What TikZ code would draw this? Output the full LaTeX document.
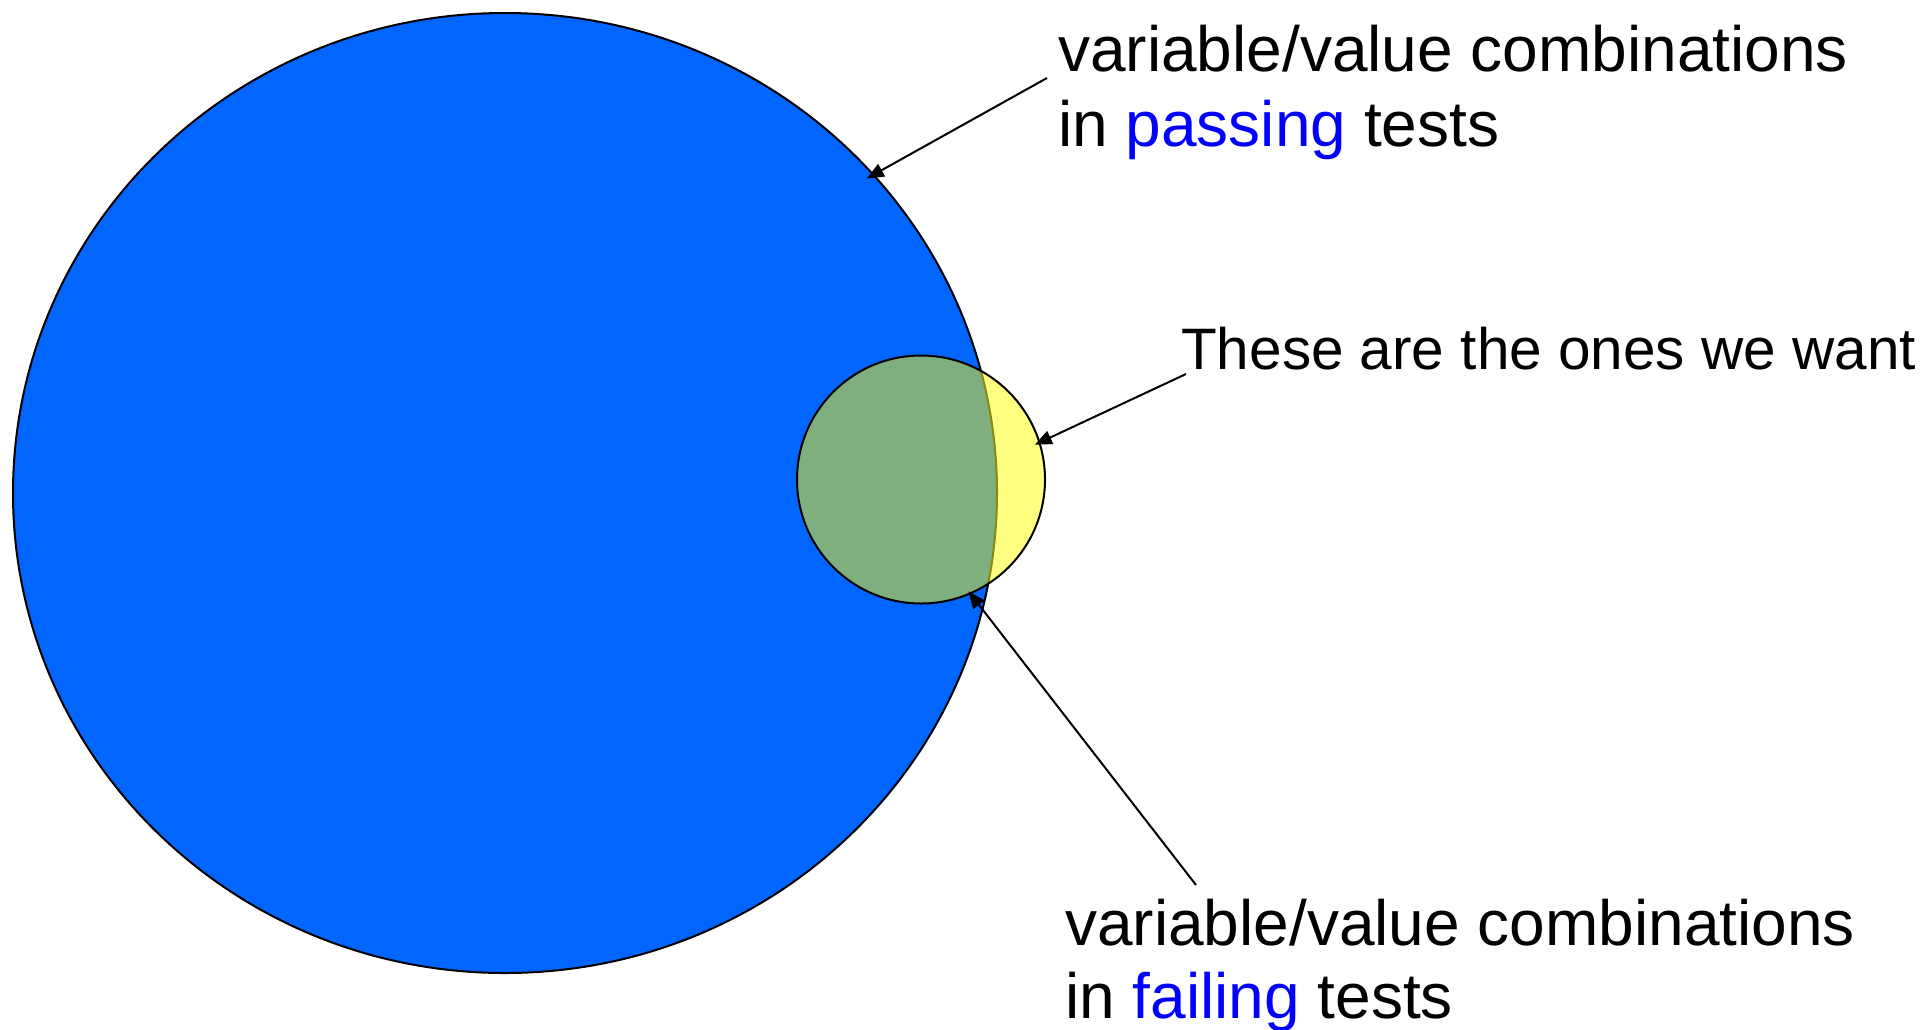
\documentclass[tikz,border=0pt]{standalone}
\usepackage{fontspec}
\setmainfont{Liberation Sans}
\usetikzlibrary{shapes.geometric,arrows.meta,calc}
\definecolor{bigblue}{HTML}{0066FF}
\definecolor{wordblue}{HTML}{0000FF}
\definecolor{overlapgreen}{HTML}{7FAF7F}
\definecolor{lightyellow}{HTML}{FFFF80}
\definecolor{olive}{HTML}{8A8A10}
\tikzset{
  outline/.style={draw=black, line width=2pt},
  label/.style={anchor=base west, inner sep=0pt, font=\fontsize{64}{75}\selectfont},
  labelsmall/.style={anchor=base west, inner sep=0pt, font=\fontsize{58.5}{70}\selectfont},
  pointer/.style={draw=black, line width=2pt, -{Triangle[length=17pt,width=14pt]}}
}
\begin{document}
\begin{tikzpicture}[x=1pt,y=-1pt]
\useasboundingbox (0,0) rectangle (1927,1029);
% big circle (passing)
\node[ellipse, outline, fill=bigblue, minimum width=984pt, minimum height=960pt, inner sep=0pt, outer sep=0pt] (big) at (505,493) {};
% small circle (failing)
\node[circle, fill=lightyellow, minimum size=248pt, inner sep=0pt, outer sep=0pt] (small) at (921,479.5) {};
\begin{scope}
  \clip (505,493) ellipse [x radius=492pt, y radius=480pt];
  \fill[overlapgreen] (921,479.5) circle [radius=124pt];
\end{scope}
\begin{scope}
  \clip (921,479.5) circle [radius=124pt];
  \draw[olive, line width=2pt] (505,493) ellipse [x radius=492pt, y radius=480pt];
\end{scope}
\draw[outline] (921,479.5) circle [radius=124pt];
% labels
\node[label] (pa) at (1058,71) {variable/value combinations};
\node[label] (pb) at (1058,146) {in {\color{wordblue}passing} tests};
\node[labelsmall] (want) at (1181,369) {These are the ones we want};
\node[label] (fa) at (1065,945) {variable/value combinations};
\node[label] (fb) at (1065,1018) {in {\color{wordblue}failing} tests};
% connector start points
\coordinate (c1) at (1047,78);
\coordinate (c2) at (1186,374);
\coordinate (c3) at (1196,885);
\draw[pointer] (c1) -- ($(big.center)!0.985!(big.41.5)$);
\draw[pointer] (c2) -- ($(small.center)!0.96!(small.17)$);
\draw[pointer] (c3) -- ($(small.center)!0.98!(small.-67)$);
\end{tikzpicture}
\end{document}
